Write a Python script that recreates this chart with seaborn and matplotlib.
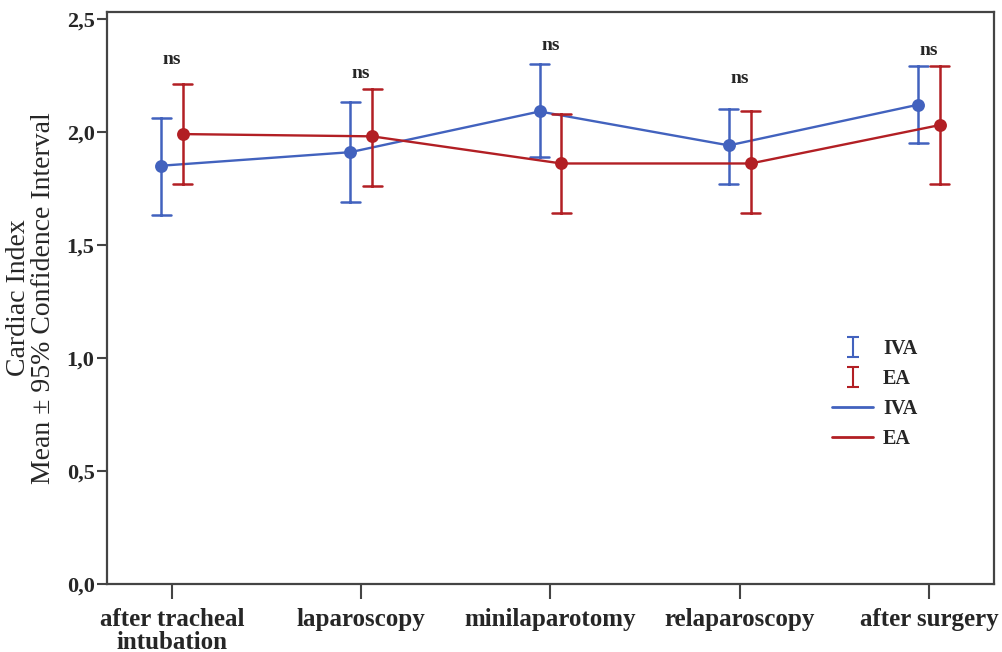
import pandas as pd
import matplotlib
matplotlib.use("Agg")
import matplotlib.pyplot as plt
from matplotlib.lines import Line2D
from matplotlib.path import Path
import seaborn as sns

# values (means and 95% CI bounds)
stages = ['after tracheal\nintubation', 'laparoscopy', 'minilaparotomy', 'relaparoscopy', 'after surgery']
iva_mean = [1.85, 1.91, 2.09, 1.94, 2.12]
iva_lo = [1.63, 1.69, 1.89, 1.77, 1.95]
iva_hi = [2.06, 2.13, 2.30, 2.10, 2.29]
ea_mean = [1.99, 1.98, 1.86, 1.86, 2.03]
ea_lo = [1.77, 1.76, 1.64, 1.64, 1.77]
ea_hi = [2.21, 2.19, 2.08, 2.09, 2.29]
ns_y = [2.32, 2.26, 2.38, 2.235, 2.36]
ytick_vals = [0.0, 0.5, 1.0, 1.5, 2.0, 2.5]
ytick_labels = ['0,0', '0,5', '1,0', '1,5', '2,0', '2,5']

blue = '#4262be'
red = '#b21f24'

# long table: lo / mean / hi per cell -> median = mean, min-max = CI
rows = []
for grp, lo, m, hi in [('IVA', iva_lo, iva_mean, iva_hi), ('EA', ea_lo, ea_mean, ea_hi)]:
    for i, s in enumerate(stages):
        for v in (lo[i], m[i], hi[i]):
            rows.append({'stage': s, 'group': grp, 'value': v})
df = pd.DataFrame(rows)

sns.set_style("ticks")
plt.rcParams['font.family'] = ['Liberation Serif', 'DejaVu Serif']

fig = plt.figure(figsize=(10.03, 6.52), dpi=100)
ax = fig.add_axes([0.1067, 0.1043, 0.991 - 0.1067, 0.9816 - 0.1043])

sns.pointplot(data=df, x='stage', y='value', hue='group', hue_order=['IVA', 'EA'],
              order=stages, palette=[blue, red], estimator='median',
              errorbar=('pi', 100), dodge=0.115, capsize=0.1,
              markersize=8, linewidth=1.7, err_kws={'linewidth': 1.8},
              legend=False, ax=ax)

for i, y in enumerate(ns_y):
    ax.text(i, y, 'ns', ha='center', va='center', fontsize=14, fontweight='bold')

ax.set_xlim(-0.343, 4.343)
ax.set_ylim(0, 2.53)
ax.set_yticks(ytick_vals)
ax.set_yticklabels(ytick_labels, fontsize=16, fontweight='bold')
ax.set_xticks(range(len(stages)))
ax.set_xticklabels(stages, fontsize=18, fontweight='bold', multialignment='center',
                   linespacing=1.0)
ax.set_xlabel('')
ax.set_ylabel('Cardiac Index\nMean \u00b1 95% Confidence Interval', fontsize=20,
              linespacing=0.95, labelpad=8)
ax.tick_params(axis='x', length=11, width=1.5, color='#444444', pad=6)
ax.tick_params(axis='y', length=7, width=1.5, color='#444444', pad=2)
for sp in ax.spines.values():
    sp.set_visible(True)
    sp.set_color('#444444')
    sp.set_linewidth(1.6)

# legend: "I" shaped error bar symbols then lines
ibar = Path([(-0.3, -0.5), (0.3, -0.5), (0, -0.5), (0, 0.5), (-0.3, 0.5), (0.3, 0.5)],
            [Path.MOVETO, Path.LINETO, Path.MOVETO, Path.LINETO, Path.MOVETO, Path.LINETO])
handles = [
    Line2D([], [], ls='none', marker=ibar, markersize=14, markeredgewidth=1.5,
           markeredgecolor=blue, markerfacecolor='none'),
    Line2D([], [], ls='none', marker=ibar, markersize=14, markeredgewidth=1.5,
           markeredgecolor=red, markerfacecolor='none'),
    Line2D([], [], color=blue, lw=2),
    Line2D([], [], color=red, lw=2),
]
ax.legend(handles, ['IVA', 'EA', 'IVA', 'EA'], loc='upper left',
          bbox_to_anchor=(0.830, 0.480), bbox_transform=fig.transFigure,
          frameon=False, numpoints=1, handlelength=2.0, handletextpad=0.5,
          labelspacing=0.5, borderpad=0, borderaxespad=0,
          prop={'family': 'Liberation Serif', 'weight': 'bold', 'size': 14.5})

fig.savefig('out.png', dpi=100)
